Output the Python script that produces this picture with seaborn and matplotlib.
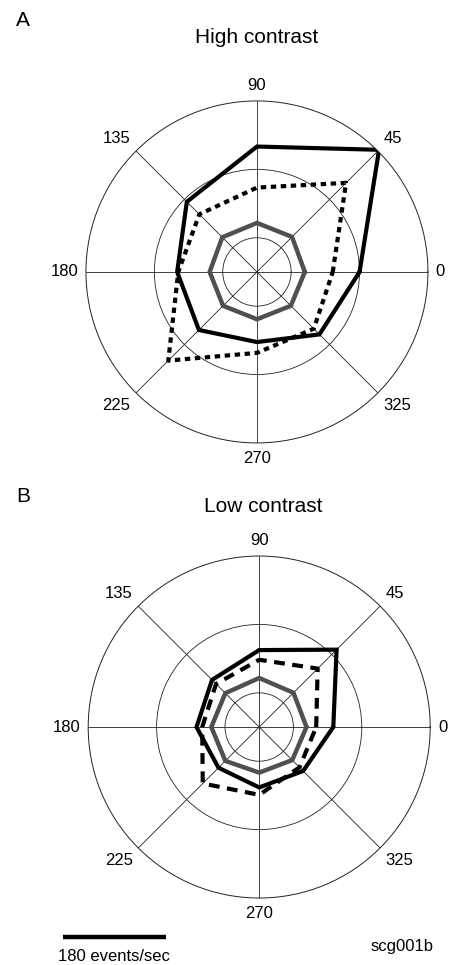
import numpy as np
import pandas as pd
import matplotlib
matplotlib.use("Agg")
import matplotlib.pyplot as plt
import seaborn as sns
from matplotlib.lines import Line2D

# ---- data (events/sec) ----
directions = [0, 45, 90, 135, 180, 225, 270, 315]
direction_labels = ["0", "45", "90", "135", "180", "225", "270", "325"]
ring_values = [60, 180]
r_max = 300
scale_value = 180

high_solid = [180, 303, 220, 174, 140, 144, 123, 155]
high_dashed = [133, 221, 148, 143, 138, 220, 142, 141]
high_gray = [84, 87, 86, 86, 83, 84, 83, 84]

low_solid = [130, 192, 135, 117, 110, 101, 106, 109]
low_dashed = [100, 145, 118, 107, 100, 140, 119, 100]
low_gray = [83, 85, 86, 84, 84, 84, 80, 82]

sns.set_style("white")
plt.rcParams["font.family"] = ["Liberation Sans", "DejaVu Sans"]
plt.rcParams["text.color"] = "black"

fig = plt.figure(figsize=(4.5, 9.65), dpi=100)
axA = fig.add_axes([0.191, 0.541, 0.76, 0.3544], projection="polar")
axB = fig.add_axes([0.196, 0.0694, 0.76, 0.3544], projection="polar")


def closed(vals):
    return list(vals) + [vals[0]]


def draw(ax, solid, dashed, gray, dash_pattern):
    theta = np.deg2rad(directions + [360])
    df = pd.DataFrame({
        "theta": np.concatenate([theta, theta, theta]),
        "r": closed(gray) + closed(solid) + closed(dashed),
        "kind": ["gray"] * len(theta) + ["solid"] * len(theta) + ["dashed"] * len(theta),
    })
    sns.lineplot(data=df[df.kind == "gray"], x="theta", y="r", ax=ax,
                 color="#505050", lw=3.2, sort=False, estimator=None,
                 solid_joinstyle="miter")
    sns.lineplot(data=df[df.kind == "solid"], x="theta", y="r", ax=ax,
                 color="black", lw=3.0, sort=False, estimator=None,
                 solid_joinstyle="miter")
    sns.lineplot(data=df[df.kind == "dashed"], x="theta", y="r", ax=ax,
                 color="black", lw=3.0, sort=False, estimator=None,
                 linestyle=(0, dash_pattern))
    ax.set_ylim(0, r_max)
    ax.set_rticks(ring_values)
    ax.set_yticklabels([])
    ax.set_thetagrids(directions, [""] * len(directions))
    ax.grid(True, color="#222222", lw=0.6)
    ax.spines["polar"].set_linewidth(0.7)
    ax.spines["polar"].set_color("#222222")
    ax.set_xlabel("")
    ax.set_ylabel("")
    # direction labels just outside the outer ring
    for d, lab in zip(directions, direction_labels):
        c, s = np.cos(np.deg2rad(d)), np.sin(np.deg2rad(d))
        ha = "left" if c > 0.1 else ("right" if c < -0.1 else "center")
        va = "bottom" if s > 0.1 else ("top" if s < -0.1 else "center")
        ax.text(np.deg2rad(d), r_max * 1.045, lab, fontsize=12, ha=ha, va=va,
                clip_on=False, color="black")


draw(axA, high_solid, high_dashed, high_gray, (1.3, 1.1))
draw(axB, low_solid, low_dashed, low_gray, (2.6, 1.8))

fig.text(0.035, 0.979, "A", fontsize=15, ha="left", va="center")
fig.text(0.571, 0.961, "High contrast", fontsize=15, ha="center", va="center")
fig.text(0.035, 0.485, "B", fontsize=15, ha="left", va="center")
fig.text(0.584, 0.475, "Low contrast", fontsize=15, ha="center", va="center")

# scale bar: length equals scale_value on the radial axis
fig.canvas.draw()
p0 = axB.transData.transform((0, 0))
p1 = axB.transData.transform((0, scale_value))
length_fig = (p1[0] - p0[0]) / fig.bbox.width
x0 = 0.14
yb = 0.029
fig.add_artist(Line2D([x0, x0 + length_fig], [yb, yb], color="black", lw=3.2,
                      transform=fig.transFigure, solid_capstyle="butt"))
fig.text(x0 + length_fig / 2, 0.009, f"{scale_value} events/sec", fontsize=12,
         ha="center", va="center")
fig.text(0.893, 0.019, "scg001b", fontsize=12, ha="center", va="center")

fig.savefig("out.png", dpi=100)
